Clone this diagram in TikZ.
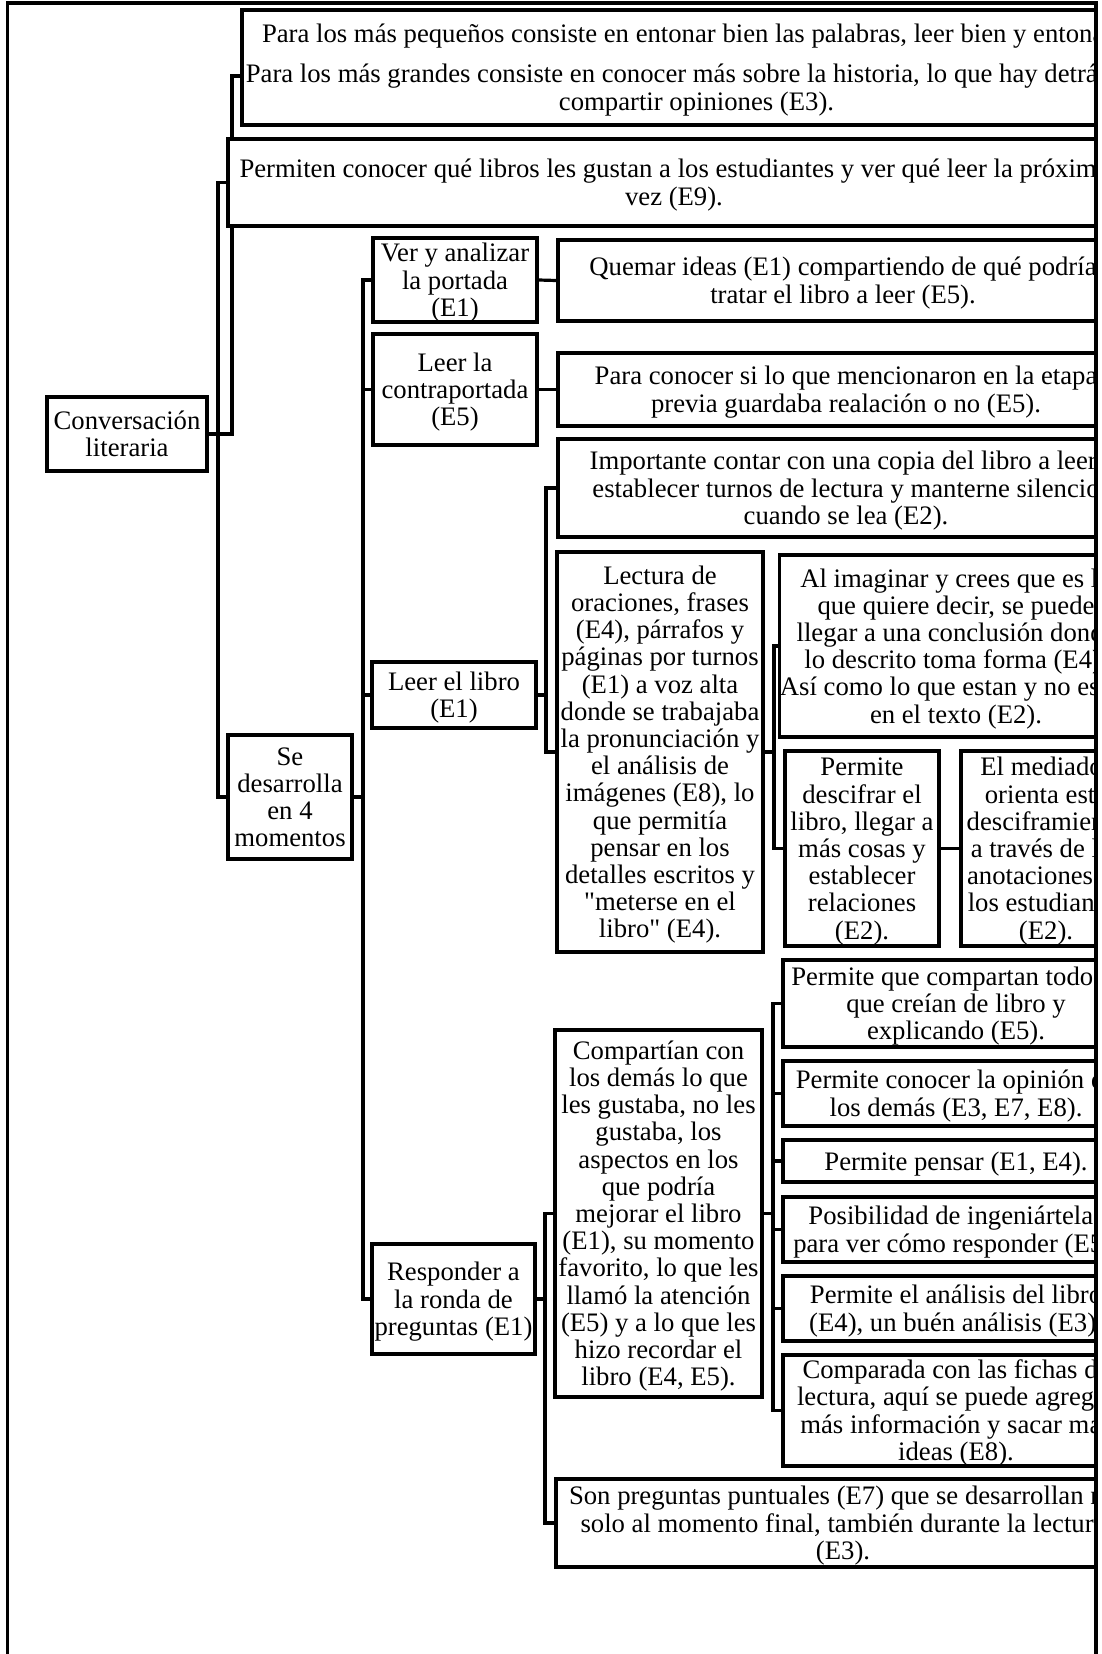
\documentclass[tikz,border=0pt]{standalone}
\usepackage{fontspec}
\setmainfont{Liberation Serif}[Ligatures=TeXOff]
\usetikzlibrary{backgrounds}
\newcommand\mapfont{\fontsize{13.35pt}{13.6pt}\selectfont}
% struts giving every box the line box of the font (ascent above, descent below)
\newcommand\topstrut{\rule{0pt}{0.891em}}
\newcommand\botstrut{\rule[-0.216em]{0pt}{0.216em}}
% box given by its left, top, right and bottom edge (y grows downwards)
\newcommand\boxnode[6]{%
  \node[box, minimum width={(#4-#2)*0.5pt}, minimum height={(#5-#3)*0.5pt}]
    (#1) at ({(#2+#4)/2},{(#3+#5)/2}) {\topstrut#6\botstrut};}
\tikzset{
  box/.style={draw, line width=1.6pt, fill=white, inner sep=0pt, align=center, font=\mapfont},
  link/.style={line width=1.6pt},
  frame/.style={line width=1.6pt}
}
\begin{document}
\begin{tikzpicture}[x=0.5pt, y=-0.5pt]
\useasboundingbox (0,0) rectangle (1102,1654);

% trunk positions of the elbow connectors
\coordinate (jA) at (232,0);
\coordinate (jB) at (218,0);
\coordinate (jC) at (363,0);
\coordinate (jD) at (546,0);
\coordinate (jE) at (774,0);
\coordinate (jF) at (545,0);
\coordinate (jG) at (773,0);
\coordinate (k1) at (0,76);

\begin{scope}
\clip (0,0) rectangle (1096,1654);

\boxnode{root}{47}{397}{207}{471}{Conversación\\literaria}

\boxnode{b1}{242}{10}{1151}{125}{Para los más pequeños consiste en entonar bien las palabras, leer bien y entonar.\kern6.3pt\\[6.4pt]Para los más grandes consiste en conocer más sobre la historia, lo que hay detrás y\kern9.5pt\\compartir opiniones (E3).}
\boxnode{b2}{228}{139}{1120}{226}{Permiten conocer qué libros les gustan a los estudiantes y ver qué leer la próxima\\vez (E9).}

\boxnode{se}{228}{735}{352}{859}{Se\\desarrolla\\en 4\\momentos}

\boxnode{ver}{373}{239}{537}{321}{Ver y analizar\\la portada\\(E1)}
\boxnode{quemar}{558}{240}{1128}{321}{Quemar ideas (E1) compartiendo de qué podría\\tratar el libro a leer (E5).}

\boxnode{contra}{373}{334}{537}{445}{Leer la\\contraportada\\(E5)}
\boxnode{conocer}{558}{353}{1134}{426}{Para conocer si lo que mencionaron en la etapa\\previa guardaba realación o no (E5).}

\boxnode{libro}{372}{662}{536}{728}{Leer el libro\\(E1)}
\boxnode{copia}{558}{439}{1134}{537}{Importante contar con una copia del libro a leer,\\establecer turnos de lectura y manterne silencio\\cuando se lea (E2).}
\boxnode{lectura}{557}{552}{763}{952}{Lectura de\\oraciones, frases\\(E4), párrafos y\\páginas por turnos\\(E1) a voz alta\\donde se trabajaba\\la pronunciación y\\el análisis de\\imágenes (E8), lo\\que permitía\\pensar en los\\detalles escritos y\\"meterse en el\\libro" (E4).}
\boxnode{imagina}{785}{555}{1127}{737}{Al imaginar y crees que es lo\\que quiere decir, se puede\\llegar a una conclusión donde\\lo descrito toma forma (E4).\\Así como lo que estan y no estan\\en el texto (E2).}
\boxnode{descifra}{785}{751}{939}{946}{Permite\\descifrar el\\libro, llegar a\\más cosas y\\establecer\\relaciones\\(E2).}
\boxnode{mediador}{961}{751}{1131}{946}{El mediador\\orienta este\\desciframiento\\a través de las\\anotaciones de\\los estudiantes\\(E2).}

\boxnode{resp}{372}{1244}{535}{1354}{Responder a\\la ronda de\\preguntas (E1)}
\boxnode{comparten}{555}{1030}{762}{1397}{Compartían con\\los demás lo que\\les gustaba, no les\\gustaba, los\\aspectos en los\\que podría\\mejorar el libro\\(E1), su momento\\favorito, lo que les\\llamó la atención\\(E5) y a lo que les\\hizo recordar el\\libro (E4, E5).}
\boxnode{todo}{783}{960}{1129}{1047}{Permite que compartan todo lo\\que creían de libro y\\explicando (E5).}
\boxnode{opinion}{783}{1061}{1129}{1126}{Permite conocer la opinión de\\los demás (E3, E7, E8).}
\boxnode{pensar}{783}{1140}{1129}{1182}{Permite pensar (E1, E4).}
\boxnode{ingenio}{783}{1197}{1129}{1262}{Posibilidad de ingeniártelas\\para ver cómo responder (E5).}
\boxnode{analisis}{783}{1276}{1129}{1341}{Permite el análisis del libro\\(E4), un buén análisis (E3).}
\boxnode{fichas}{783}{1355}{1129}{1466}{Comparada con las fichas de\\lectura, aquí se puede agregar\\más información y sacar más\\ideas (E8).}
\boxnode{puntual}{556}{1479}{1130}{1567}{Son preguntas puntuales (E7) que se desarrollan no\\solo al momento final, también durante la lectura\\(E3).}

% elbow connectors, kept behind the boxes
\begin{scope}[on background layer]
\draw[link] (root.east) -| (jA |- k1) -- (b1.west |- k1);
\draw[link] (root.east) -| (jB |- b2.west) -- (b2.west);
\draw[link] (root.east) -| (jB |- se.west) -- (se.west);
\foreach \n in {ver,contra,libro,resp}
  \draw[link] (se.east) -| (jC |- \n.west) -- (\n.west);
\draw[link] (ver.east) -- (quemar.west);
\draw[link] (contra.east) -- (conocer.west);
\foreach \n in {copia,lectura}
  \draw[link] (libro.east) -| (jD |- \n.west) -- (\n.west);
\foreach \n in {imagina,descifra}
  \draw[link] (lectura.east) -| (jE |- \n.west) -- (\n.west);
\draw[link] (descifra.east) -- (mediador.west);
\foreach \n in {comparten,puntual}
  \draw[link] (resp.east) -| (jF |- \n.west) -- (\n.west);
\foreach \n in {todo,opinion,pensar,ingenio,analisis,fichas}
  \draw[link] (comparten.east) -| (jG |- \n.west) -- (\n.west);
\end{scope}
\end{scope}

% outer frame, open at the bottom
\draw[frame] (7.5,1660) -- (7.5,3) -- (1096,3) -- (1096,1660);
\end{tikzpicture}
\end{document}
